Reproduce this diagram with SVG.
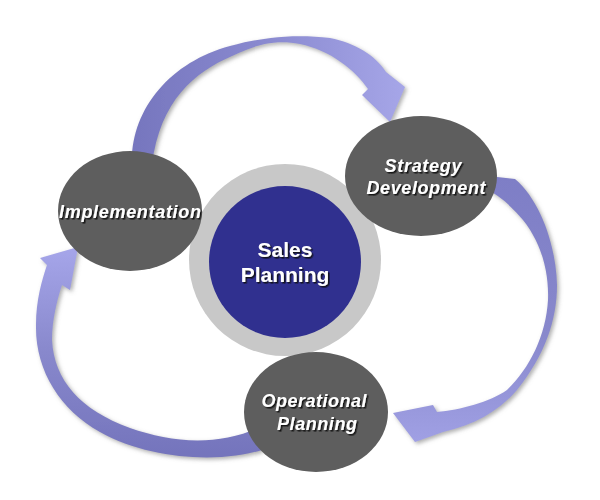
<svg xmlns="http://www.w3.org/2000/svg" width="600" height="500" viewBox="0 0 600 500">
  <defs>
    <filter id="shadow" x="-20%" y="-20%" width="140%" height="140%">
      <feDropShadow dx="2" dy="2" stdDeviation="2" flood-color="#777" flood-opacity="0.6"/>
    </filter>
    <filter id="tshadow" x="-10%" y="-20%" width="120%" height="150%">
      <feDropShadow dx="1.5" dy="1.5" stdDeviation="0.4" flood-color="#111" flood-opacity="0.9"/>
    </filter>
    <linearGradient id="gTop" x1="0" y1="0" x2="1" y2="0">
      <stop offset="0" stop-color="#7676be"/>
      <stop offset="0.5" stop-color="#8a8ad0"/>
      <stop offset="1" stop-color="#a6a6e8"/>
    </linearGradient>
    <linearGradient id="gRight" x1="0" y1="0" x2="0" y2="1">
      <stop offset="0" stop-color="#7e7ec6"/>
      <stop offset="0.6" stop-color="#8888cc"/>
      <stop offset="1" stop-color="#a0a0e4"/>
    </linearGradient>
    <linearGradient id="gLeft" x1="0" y1="1" x2="0" y2="0">
      <stop offset="0" stop-color="#7474bc"/>
      <stop offset="0.5" stop-color="#8888cc"/>
      <stop offset="1" stop-color="#a6a6ea"/>
    </linearGradient>
    <style>
      .node { fill: #5e5e5e; }
      .lbl { font-family: "Liberation Sans", Arial, sans-serif; font-weight: bold; font-style: italic; fill: #ffffff; text-anchor: middle; font-size: 18px; filter: url(#tshadow); }
      .ctr { font-family: "Liberation Sans", Arial, sans-serif; font-weight: bold; fill: #ffffff; text-anchor: middle; font-size: 21px; filter: url(#tshadow); }
    </style>
  </defs>
  <rect width="600" height="500" fill="#ffffff"/>

  <g id="connectors" filter="url(#shadow)">
    <path id="arrow-top" fill="url(#gTop)" d="M132,165 C130,110 170,62 230,46 C255,39 290,33 330,38 C355,43 375,55 386,72 L405,87 L390,122 L362,95 L368,89 C355,70 330,50 300,44 C280,40 260,42 232,56 C195,72 160,100 152,165 Z"/>
    <path id="arrow-right" fill="url(#gRight)" d="M488,176 L515,179 C540,200 556,245 557,285 C557,320 545,355 517,390 C500,410 475,425 443,432 L415,442 L393,413 L433,405 L437,412 C460,410 490,402 507,390 C530,368 546,335 548,300 C549,275 543,245 523,220 C510,205 500,196 488,190 Z"/>
    <path id="arrow-left" fill="url(#gLeft)" d="M262,450 C220,463 150,460 100,432 C60,410 35,370 36,325 C36,300 42,280 47,265 L40,258 L78,247 L70,290 L62,285 C57,300 52,320 52,340 C54,380 80,410 130,428 C170,442 215,447 258,428 Z"/>
  </g>

  <g id="sales-planning">
    <circle cx="285" cy="260" r="96" fill="#c8c8c8"/>
    <circle cx="285" cy="262" r="76" fill="#30308f"/>
    <text class="ctr" x="285" y="257">Sales</text>
    <text class="ctr" x="285" y="282">Planning</text>
  </g>

  <g id="implementation">
    <ellipse class="node" cx="130" cy="211" rx="72" ry="60"/>
    <text class="lbl" x="130" y="218" textLength="142" lengthAdjust="spacing">Implementation</text>
  </g>

  <g id="strategy-development">
    <ellipse class="node" cx="421" cy="176" rx="76" ry="60"/>
    <text class="lbl" x="423" y="172" textLength="77" lengthAdjust="spacing">Strategy</text>
    <text class="lbl" x="426" y="194" textLength="119" lengthAdjust="spacing">Development</text>
  </g>

  <g id="operational-planning">
    <ellipse class="node" cx="316" cy="412" rx="72" ry="60"/>
    <text class="lbl" x="314" y="407" textLength="105" lengthAdjust="spacing">Operational</text>
    <text class="lbl" x="317" y="430" textLength="80" lengthAdjust="spacing">Planning</text>
  </g>
</svg>
